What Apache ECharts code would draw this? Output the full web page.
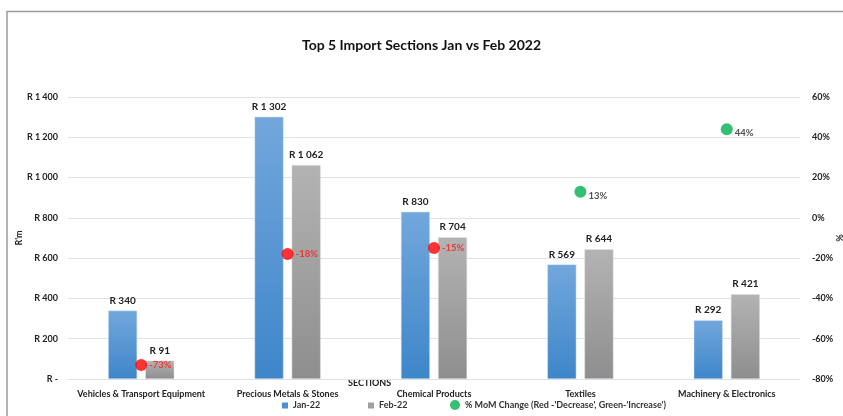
<!DOCTYPE html>
<html><head><meta charset="utf-8">
<script src="https://cdn.jsdelivr.net/npm/echarts@6/dist/echarts.min.js"></script>
<style>html,body{margin:0;padding:0;background:#fff}#c{width:843px;height:416px}</style>
</head><body><div id="c"></div>
<script>
const categories = ['Vehicles & Transport Equipment','Precious Metals & Stones','Chemical Products','Textiles','Machinery & Electronics'];
const jan22 = [340, 1302, 830, 569, 292];
const feb22 = [91, 1062, 704, 644, 421];
const momChange = [-73, -18, -15, 13, 44];
const leftTicks = {min: 0, max: 1400, interval: 200};
const rightTicks = {min: -80, max: 60, interval: 20};
const momName = "% MoM Change (Red -'Decrease', Green-'Increase')";

const FONT = 'Lato, "Liberation Sans", sans-serif';
function rand(v){
  if (v === 0) return 'R -';
  const s = String(Math.round(v));
  return 'R ' + s.replace(/\B(?=(\d{3})+(?!\d))/g, ' ');
}
const legendText = {fontFamily: FONT, fontSize: 9, fontWeight: 'bold', color: '#333'};
function leg(name, left, icon, w, h, color){
  return {bottom: 1, left: left, itemWidth: w, itemHeight: h, itemGap: 0,
    textStyle: legendText, data: [{name: name, icon: icon, itemStyle: {color: color, borderWidth: 0}}]};
}
const chart = echarts.init(document.getElementById('c'));
chart.setOption({
  animation: false,
  textStyle: {fontFamily: FONT},
  title: {
    text: 'Top 5 Import Sections Jan vs Feb 2022',
    left: 'center', top: 33,
    textStyle: {fontFamily: FONT, fontSize: 14, fontWeight: 'bold', color: '#111'}
  },
  graphic: [
    {type: 'polyline', shape: {points: [[7, 416], [7, 11.5], [843, 11.5]]}, style: {stroke: '#9a9a9a', lineWidth: 1.5, fill: null}},
    {type: 'text', left: 348, top: 379, style: {text: 'SECTIONS', font: 'bold 9px ' + FONT, fill: '#222'}}
  ],
  legend: [
    leg('Jan-22', 277, 'rect', 6, 6, '#4a90d4'),
    leg('Feb-22', 363, 'rect', 6, 6, '#a0a0a0'),
    leg(momName, 445, 'circle', 10, 10, '#00b050')
  ],
  grid: {left: 68, right: 43, top: 97, bottom: 37, containLabel: false, outerBoundsMode: 'none'},
  xAxis: {
    type: 'category', data: categories,
    axisTick: {show: false},
    axisLine: {show: true, lineStyle: {color: '#dce3ec'}},
    axisLabel: {fontFamily: FONT, fontSize: 9, fontWeight: 'bold', color: '#222', margin: 11, interval: 0}
  },
  yAxis: [
    {
      type: 'value', min: leftTicks.min, max: leftTicks.max, interval: leftTicks.interval,
      name: "R'm", nameLocation: 'middle', nameGap: 44, nameRotate: 90, nameMoveOverlap: false,
      nameTextStyle: {fontFamily: FONT, fontSize: 9, fontWeight: 'bold', color: '#222'},
      axisLabel: {formatter: rand, fontFamily: FONT, fontSize: 9, fontWeight: 'bold', color: '#222', margin: 10},
      splitLine: {lineStyle: {color: '#dce3ec', width: 1}},
      axisLine: {show: false}, axisTick: {show: false}
    },
    {
      type: 'value', min: rightTicks.min, max: rightTicks.max, interval: rightTicks.interval,
      name: '%', nameLocation: 'middle', nameGap: 34, nameRotate: -90, nameMoveOverlap: false,
      nameTextStyle: {fontFamily: FONT, fontSize: 9, fontWeight: 'bold', color: '#222'},
      axisLabel: {formatter: v => v + '%', fontFamily: FONT, fontSize: 9, fontWeight: 'bold', color: '#222', margin: 12},
      splitLine: {show: false}, axisLine: {show: false}, axisTick: {show: false}
    }
  ],
  series: [
    {
      name: 'Jan-22', type: 'bar', data: jan22, barWidth: 29, barGap: '28%',
      itemStyle: {color: new echarts.graphic.LinearGradient(0, 0, 0, 1, [{offset: 0, color: '#72a7dc'}, {offset: 1, color: '#3e86c9'}]),
                  borderColor: '#d6e6f6', borderWidth: 0.5},
      label: {show: true, position: 'top', distance: 5, formatter: p => rand(p.value), fontFamily: FONT, fontSize: 10, fontWeight: 'bold', color: '#222'}
    },
    {
      name: 'Feb-22', type: 'bar', data: feb22, barWidth: 29,
      itemStyle: {color: new echarts.graphic.LinearGradient(0, 0, 0, 1, [{offset: 0, color: '#b3b3b3'}, {offset: 1, color: '#8e8e8e'}]),
                  borderColor: '#e0e0e0', borderWidth: 0.5},
      label: {show: true, position: 'top', distance: 5, formatter: p => rand(p.value), fontFamily: FONT, fontSize: 10, fontWeight: 'bold', color: '#222'}
    },
    {
      name: momName, type: 'scatter', yAxisIndex: 1,
      symbolSize: 12, z: 5,
      data: momChange.map(v => ({
        value: v,
        itemStyle: {color: v < 0 ? '#ff0000' : '#00b050'},
        label: {color: v < 0 ? '#ff1a1a' : '#222', offset: v < 0 ? [0, 0] : [0, 4]}
      })),
      label: {show: true, position: 'right', distance: 2, formatter: p => p.value + '%', fontFamily: FONT, fontSize: 9.5, fontWeight: 'bold'}
    }
  ]
});
</script></body></html>
